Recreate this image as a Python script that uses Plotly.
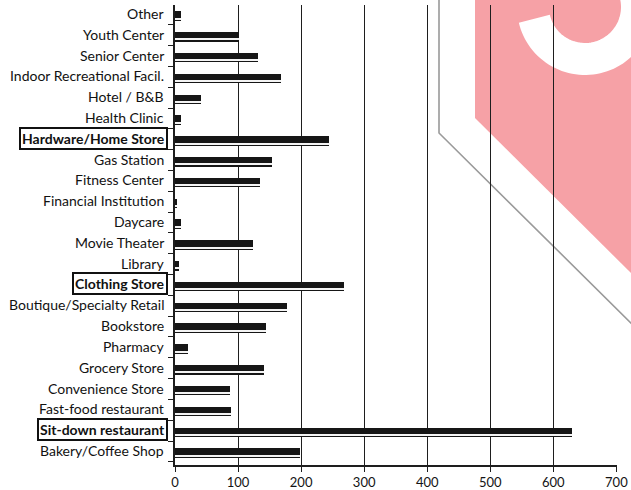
import math
import plotly.graph_objects as go

# Categories listed bottom-to-top (y axis order)
categories = [
    "Bakery/Coffee Shop", "Sit-down restaurant", "Fast-food restaurant",
    "Convenience Store", "Grocery Store", "Pharmacy", "Bookstore",
    "Boutique/Specialty Retail", "Clothing Store", "Library", "Movie Theater",
    "Daycare", "Financial Institution", "Fitness Center", "Gas Station",
    "Hardware/Home Store", "Health Clinic", "Hotel / B&B",
    "Indoor Recreational Facil.", "Senior Center", "Youth Center", "Other",
]
responses = [198, 630, 89, 87, 141, 21, 145, 177, 268, 6, 124,
             10, 3, 135, 154, 244, 9, 42, 168, 132, 101, 10]
highlighted = ["Hardware/Home Store", "Clothing Store", "Sit-down restaurant"]
x_ticks = [0, 100, 200, 300, 400, 500, 600, 700]

W, H = 631, 490
M_L, M_R, M_T, M_B = 175, 14, 5, 25
LABEL_FONT = "Lato, Open Sans, sans-serif"

fig = go.Figure()
# Main dark bar
fig.add_trace(go.Bar(
    y=categories, x=responses, orientation="h",
    marker=dict(color="#161616", line=dict(width=0)),
    width=0.46, offset=-0.31, hoverinfo="x+y", showlegend=False,
))
# Thin light stripe near the lower edge of each bar
fig.add_trace(go.Bar(
    y=categories, x=responses, orientation="h",
    marker=dict(color="#f4f4f4", line=dict(width=0)),
    width=0.05, offset=-0.23, hoverinfo="skip", showlegend=False,
))

# Category labels; key categories are boxed and bold
annotations = []
for cat in categories:
    boxed = cat in highlighted
    annotations.append(dict(
        xref="paper", yref="y", x=0, y=cat, xanchor="right", yanchor="middle",
        xshift=-10 if not boxed else -7, yshift=1, showarrow=False,
        text=f"<b>{cat}</b>" if boxed else cat,
        font=dict(family=LABEL_FONT, size=14, color="#111111"),
        bordercolor="#111" if boxed else "rgba(0,0,0,0)",
        borderwidth=2 if boxed else 0, borderpad=1,
        bgcolor="white" if boxed else "rgba(0,0,0,0)",
    ))


def px(x, y):
    """Convert page pixels to paper coordinates."""
    pw, ph = W - M_L - M_R, H - M_T - M_B
    return (x - M_L) / pw, 1 - (y - M_T) / ph


def path(points, close=True):
    segs = []
    for i, (x, y) in enumerate(points):
        X, Y = px(x, y)
        segs.append(("M" if i == 0 else "L") + f"{X:.5f},{Y:.5f}")
    return " ".join(segs) + (" Z" if close else "")


# Decorative badge drawn behind the grid
badge = [(475, -5), (640, -5), (640, 282), (475, 118)]
cx, cy, r_mid, band = 585, 7, 52, 32
arc = []
for a in range(167, -64, -3):
    t = math.radians(a)
    arc.append((cx + r_mid * math.cos(t), cy + r_mid * math.sin(t)))

shapes = [
    dict(type="path", xref="paper", yref="paper", path=path(badge),
         fillcolor="#f6a1a6", line=dict(width=0), layer="below"),
    dict(type="path", xref="paper", yref="paper", path=path(arc, close=False),
         line=dict(color="#ffffff", width=band), layer="below"),
    dict(type="path", xref="paper", yref="paper",
         path=path([(439, -5), (439, 133), (640, 332)], close=False),
         line=dict(color="#9a9a9a", width=1.6), layer="below"),
]

fig.update_layout(
    width=W, height=H,
    margin=dict(l=M_L, r=M_R, t=M_T, b=M_B, pad=0, autoexpand=False),
    plot_bgcolor="rgba(0,0,0,0)", paper_bgcolor="white",
    barmode="overlay", bargap=0,
    font=dict(family=LABEL_FONT, size=13, color="#141414"),
    annotations=annotations, shapes=shapes,
    xaxis=dict(
        range=[0, 701], tickvals=x_ticks, ticktext=[str(v) for v in x_ticks],
        showgrid=True, gridcolor="#1e1e1e", gridwidth=1.3,
        showline=True, linecolor="#1e1e1e", linewidth=1.5,
        ticks="outside", ticklen=5, tickcolor="#1e1e1e", tickwidth=1.3,
        zeroline=False, fixedrange=True, automargin=False,
        tickfont=dict(size=13, color="#141414"),
    ),
    yaxis=dict(
        type="category", categoryorder="array", categoryarray=categories,
        range=[-0.65, 21.45], showticklabels=False, automargin=False,
        showline=True, linecolor="#1e1e1e", linewidth=1.5,
        ticks="outside", ticklen=5, tickcolor="#1e1e1e", tickwidth=1.3,
        tickson="boundaries", showgrid=False, fixedrange=True,
    ),
)

fig.write_html("out.html")
